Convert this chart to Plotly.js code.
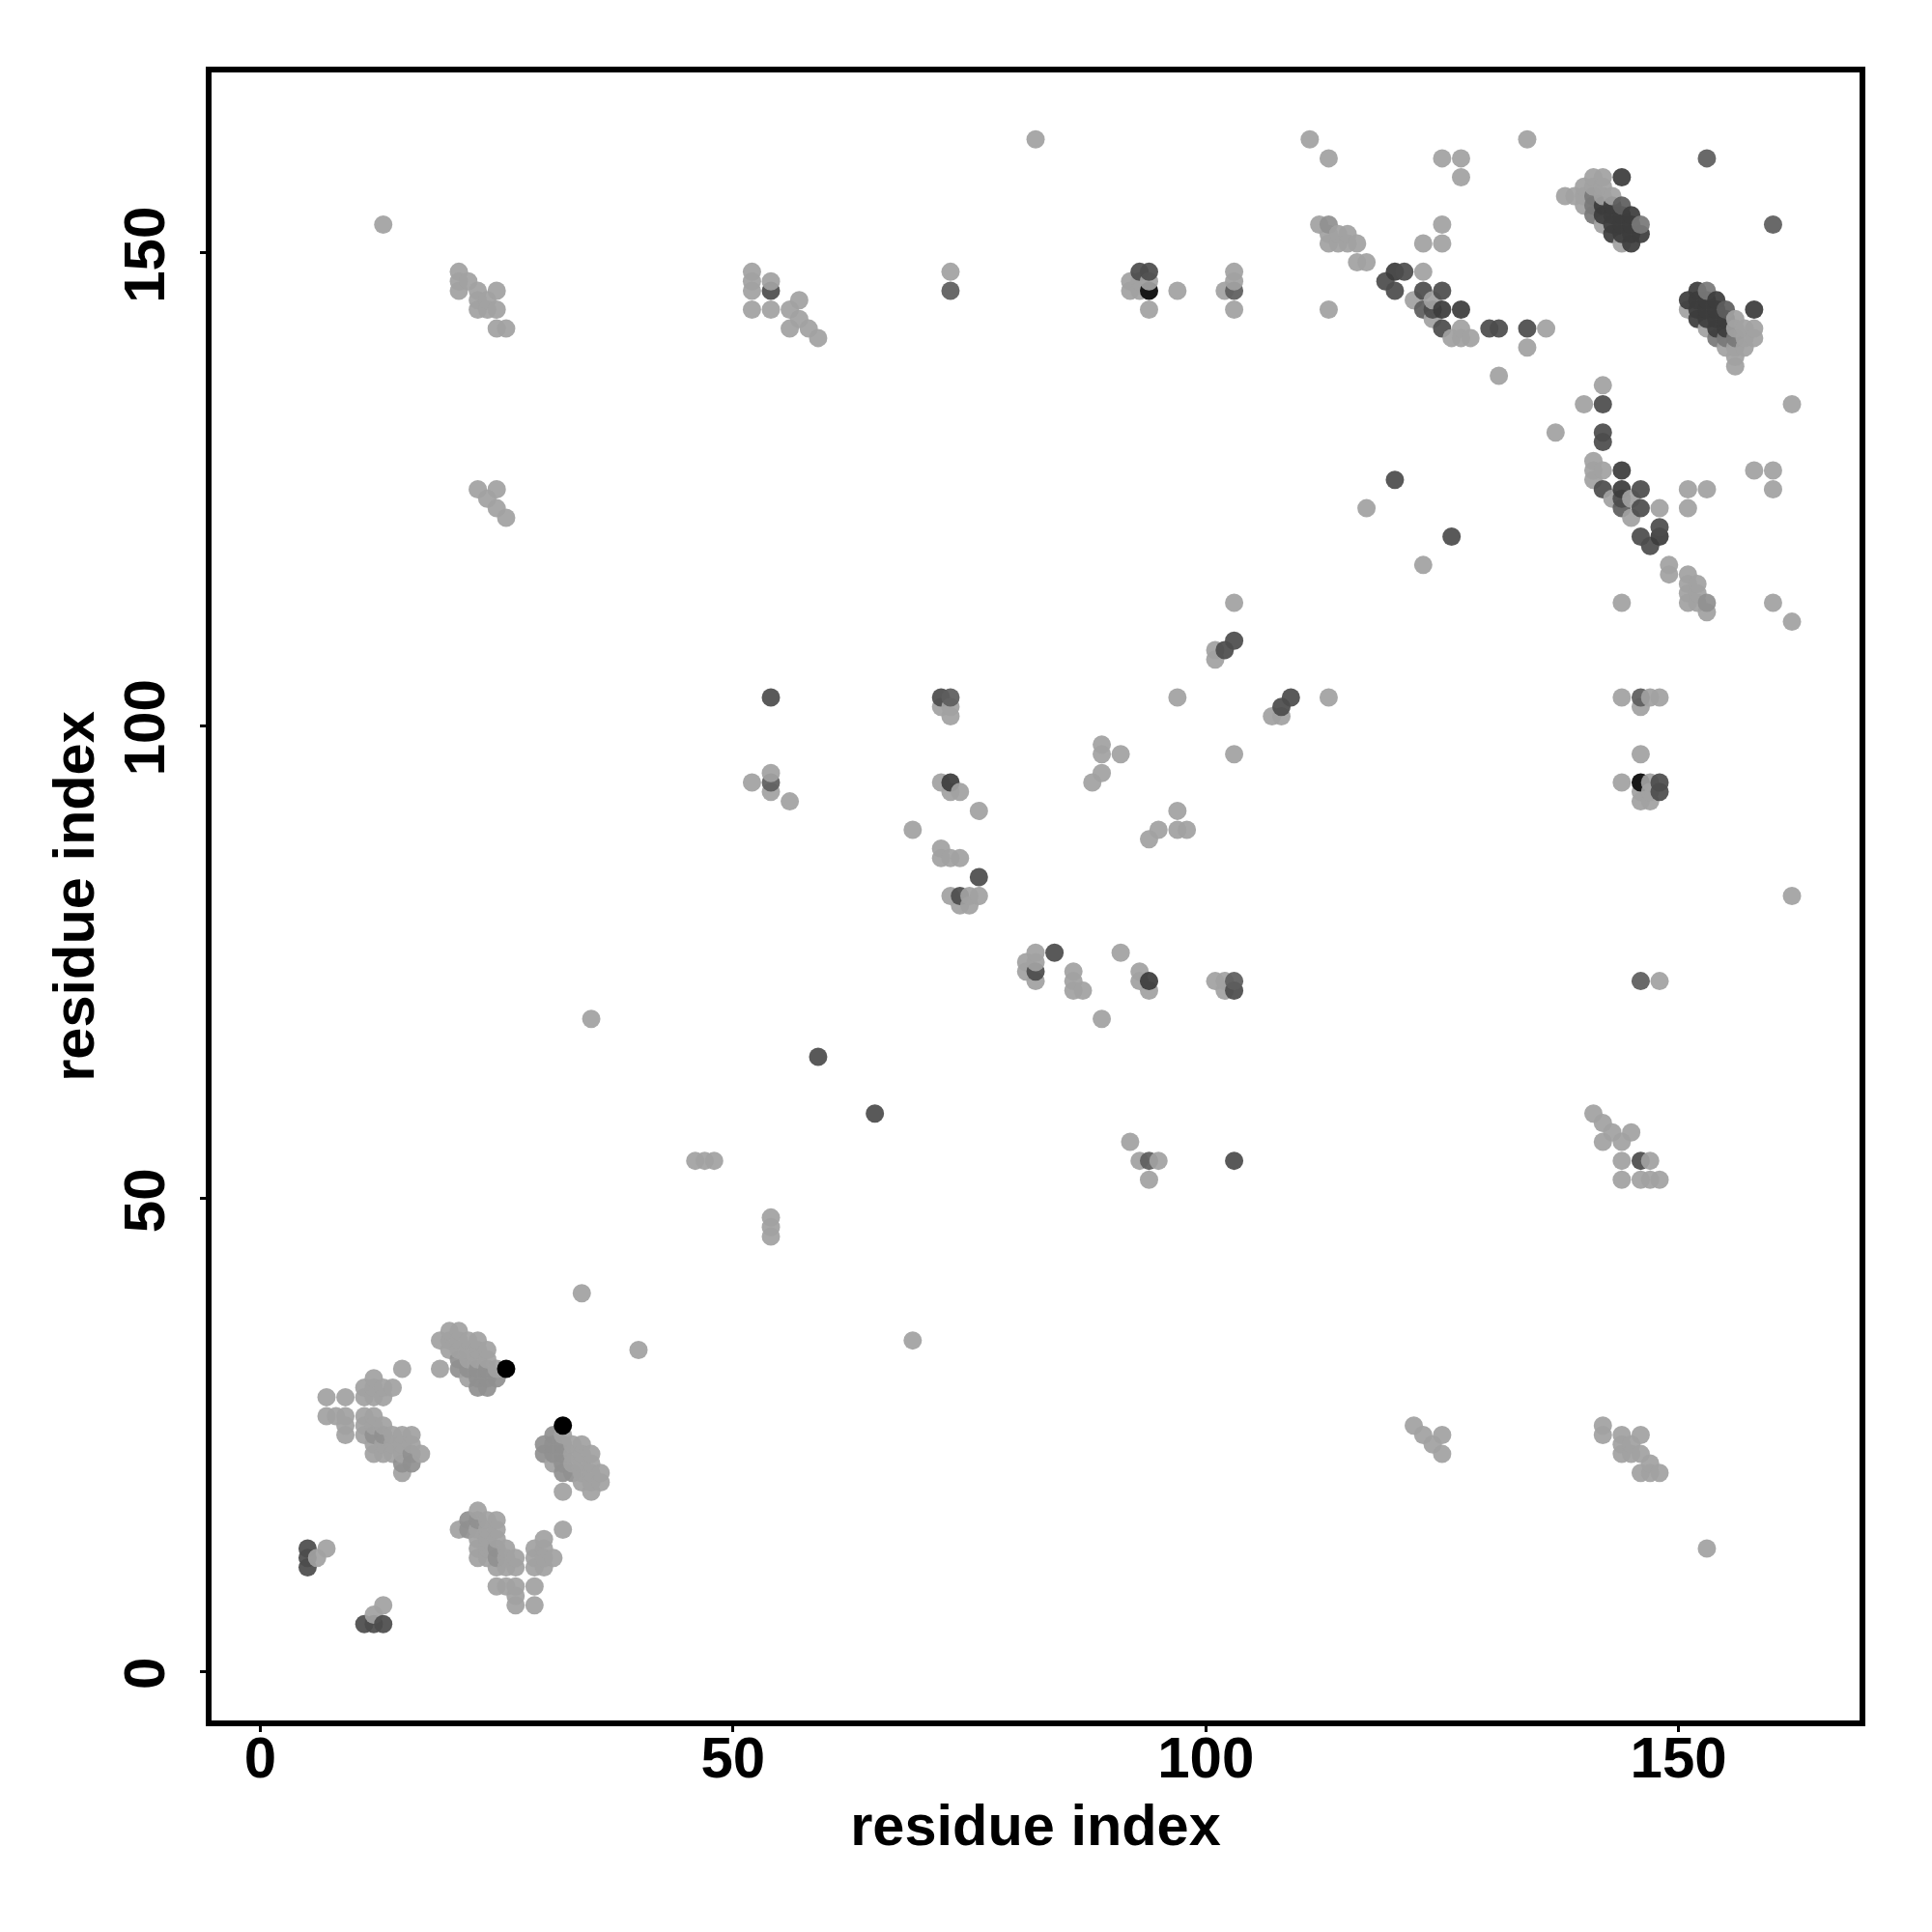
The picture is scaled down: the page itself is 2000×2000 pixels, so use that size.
<!DOCTYPE html>
<html>
<head>
<meta charset="utf-8">
<script src="https://cdn.plot.ly/plotly-3.0.1.min.js"></script>
<style>html,body{margin:0;padding:0;background:#fff}</style>
</head>
<body>
<div id="chart" style="width:2000px;height:2000px"></div>
<script>
// Contacts as [residue i, residue j] pairs, i < j; the map is symmetric.
const lightContacts = [
  [6,12],[7,13],[13,153],
  [15,32],[12,31],[11,30],[12,30],[13,30],[14,30],[7,29],[9,29],[11,29],[12,29],[13,29],
  [7,27],[8,27],[9,27],[11,27],[12,27],[9,26],[11,26],[12,26],[13,26],[9,25],[11,25],
  [14,25],[15,25],[16,25],[12,24],[13,24],[14,24],[15,24],[16,24],[12,23],[13,23],[14,23],[15,23],[17,23],[15,21],
  [19,35],[19,32],[20,36],[20,35],[20,34],[21,36],[21,35],[21,34],[22,35],[22,34],[22,33],
  [23,35],[23,34],[23,33],[24,34],[24,33],[25,32],[22,31],
  [21,148],[21,147],[21,146],[22,147],[23,146],[23,145],[23,144],[24,145],[24,144],[25,146],[25,144],[25,142],[26,142],
  [23,125],[24,124],[25,125],[25,123],[26,122],[35,69],[34,40],[46,54],[47,54],[48,54],
  [52,148],[52,147],[52,146],[52,144],[54,147],[54,144],[56,144],[57,145],[57,143],[56,142],[58,142],[59,141],
  [52,94],[54,95],[54,93],[56,92],[69,89],[72,87],[72,86],[73,86],[74,86],[73,82],[75,82],[76,82],[74,81],[75,81],
  [72,94],[73,93],[74,93],[76,91],[72,102],[73,102],[73,101],[73,148],[82,162],
  [88,94],[89,95],[89,97],[89,98],[91,97],[97,103],[101,108],[101,107],[103,113],
  [92,147],[92,146],[93,147],[93,146],[94,147],[94,144],[97,146],[102,146],[103,148],[103,147],[103,144],
  [111,162],[113,160],[125,160],[127,160],[127,158],[134,162],
  [112,153],[113,153],[113,152],[113,151],[114,152],[114,151],[115,152],[115,151],[116,151],[116,149],[117,149],[113,144],
  [123,148],[123,151],[125,151],[125,153],[122,145],[124,145],[124,143],[127,142],[126,141],[127,141],[128,141],
  [136,142],[134,140],[131,137],[117,123],[123,117],
  [140,134],[137,131],[141,128],[141,127],[141,126],[142,127],[143,124],[145,124],[145,122],
  [148,123],[151,125],[153,125],[151,123],[149,117],[149,116],[151,116],[151,115],[152,115],[151,114],[152,114],[151,113],[152,113],[153,112],
  [144,113],[160,113],[162,111],[158,127],[160,127],[160,125],[142,136],[162,134],[162,82],
  [138,156],[139,156],[140,157],[140,155],[140,156],[141,158],[142,158],[141,157],[142,157],[142,156],[142,153],[143,156],[144,151]
];
const softContacts = [
  [21,33],[21,32],[22,32],[23,32],[23,31],[23,30],[24,32],[24,31],[24,30],[25,31],
  [12,25],[13,25],[15,22],[16,22],[16,23],[153,113]
];
const greyContacts = [[141,156],[141,155],[141,154],[146,153]];
const midContacts = [[54,94],[73,146],[73,103],[103,146],[144,155],[153,160],[121,148],[123,144],[144,123]];
const darkContacts = [
  [5,11],[5,12],[5,13],[11,5],[59,65],[54,103],[54,146],[72,103],[74,82],[76,84],[93,148],[94,148],
  [102,108],[103,109],
  [119,147],[120,146],[120,126],[120,148],[123,146],[125,146],[125,142],[124,144],
  [127,144],[130,142],[131,142],[134,142],[142,134],[142,131],[142,130],[142,125],[146,125],
  [146,123],[144,124],[148,121],[146,120],[147,119]
];
const deepContacts = [
  [73,94],[125,144],[144,127],[144,125],[148,120],[158,144],[144,158],
  [142,155],[142,154],[143,155],[143,154],[143,153],[143,152],[144,154],[144,153],[144,152],
  [145,154],[145,153],[145,152],[145,151],[146,152]
];
const nearBlackContacts = [[94,146]];
const blackContacts = [[26,32]];

const axisTicks = [0, 50, 100, 150];
const axisLabel = "residue index";

// rgba colour per class: grey at slight transparency, so overlaps darken a little.
const classes = [
  [lightContacts, "rgba(161,161,161,0.93)"],
  [softContacts, "rgba(144,144,144,0.93)"],
  [greyContacts, "rgba(120,120,120,0.93)"],
  [midContacts, "rgba(94,94,94,0.93)"],
  [darkContacts, "rgba(76,76,76,0.93)"],
  [deepContacts, "rgba(60,60,60,0.93)"],
  [nearBlackContacts, "rgba(24,24,24,1)"],
  [blackContacts, "rgba(0,0,0,1)"]
];

const pts = new Map();
classes.forEach(([list, colour]) => {
  list.forEach(([a, b]) => {
    pts.set(a + "," + b, {x: a, y: b, c: colour});
    pts.set(b + "," + a, {x: b, y: a, c: colour});
  });
});
const ordered = Array.from(pts.values()).sort((p, q) => p.x - q.x || p.y - q.y);

const tickFont = {family: "Liberation Sans, Arial, sans-serif", size: 60, color: "#000"};
const titleFont = {family: "Liberation Sans, Arial, sans-serif", size: 59.5, color: "#000"};
const axisBase = {
  tickmode: "array", tickvals: axisTicks,
  showgrid: false, zeroline: false, showline: true, mirror: true,
  linecolor: "#000", linewidth: 6, ticks: "outside", ticklen: 6, tickwidth: 3, tickcolor: "#000",
  tickfont: tickFont
};
const b = s => "<b>" + s + "</b>";

Plotly.newPlot("chart", [{
  type: "scatter", mode: "markers",
  x: ordered.map(p => p.x), y: ordered.map(p => p.y),
  marker: {size: 19, color: ordered.map(p => p.c), line: {width: 0}},
  hoverinfo: "x+y"
}], {
  width: 2000, height: 2000,
  paper_bgcolor: "#fff", plot_bgcolor: "#fff", showlegend: false,
  margin: {l: 218.5, r: 75, t: 75, b: 219, pad: 0},
  xaxis: Object.assign({}, axisBase, {
    range: [-5.16, 169.15], ticktext: axisTicks.map(t => b(t)), ticklabelstandoff: -25,
    title: {text: b(axisLabel), font: titleFont, standoff: 18}
  }),
  yaxis: Object.assign({}, axisBase, {
    range: [-5.18, 169.08], ticktext: axisTicks.map(t => b(t)), tickangle: -90,
    ticklabelstandoff: 13, ticklabelshift: 11,
    title: {text: b(axisLabel), font: titleFont, standoff: 1.5}
  })
}, {displayModeBar: false, staticPlot: true});
</script>
</body>
</html>
